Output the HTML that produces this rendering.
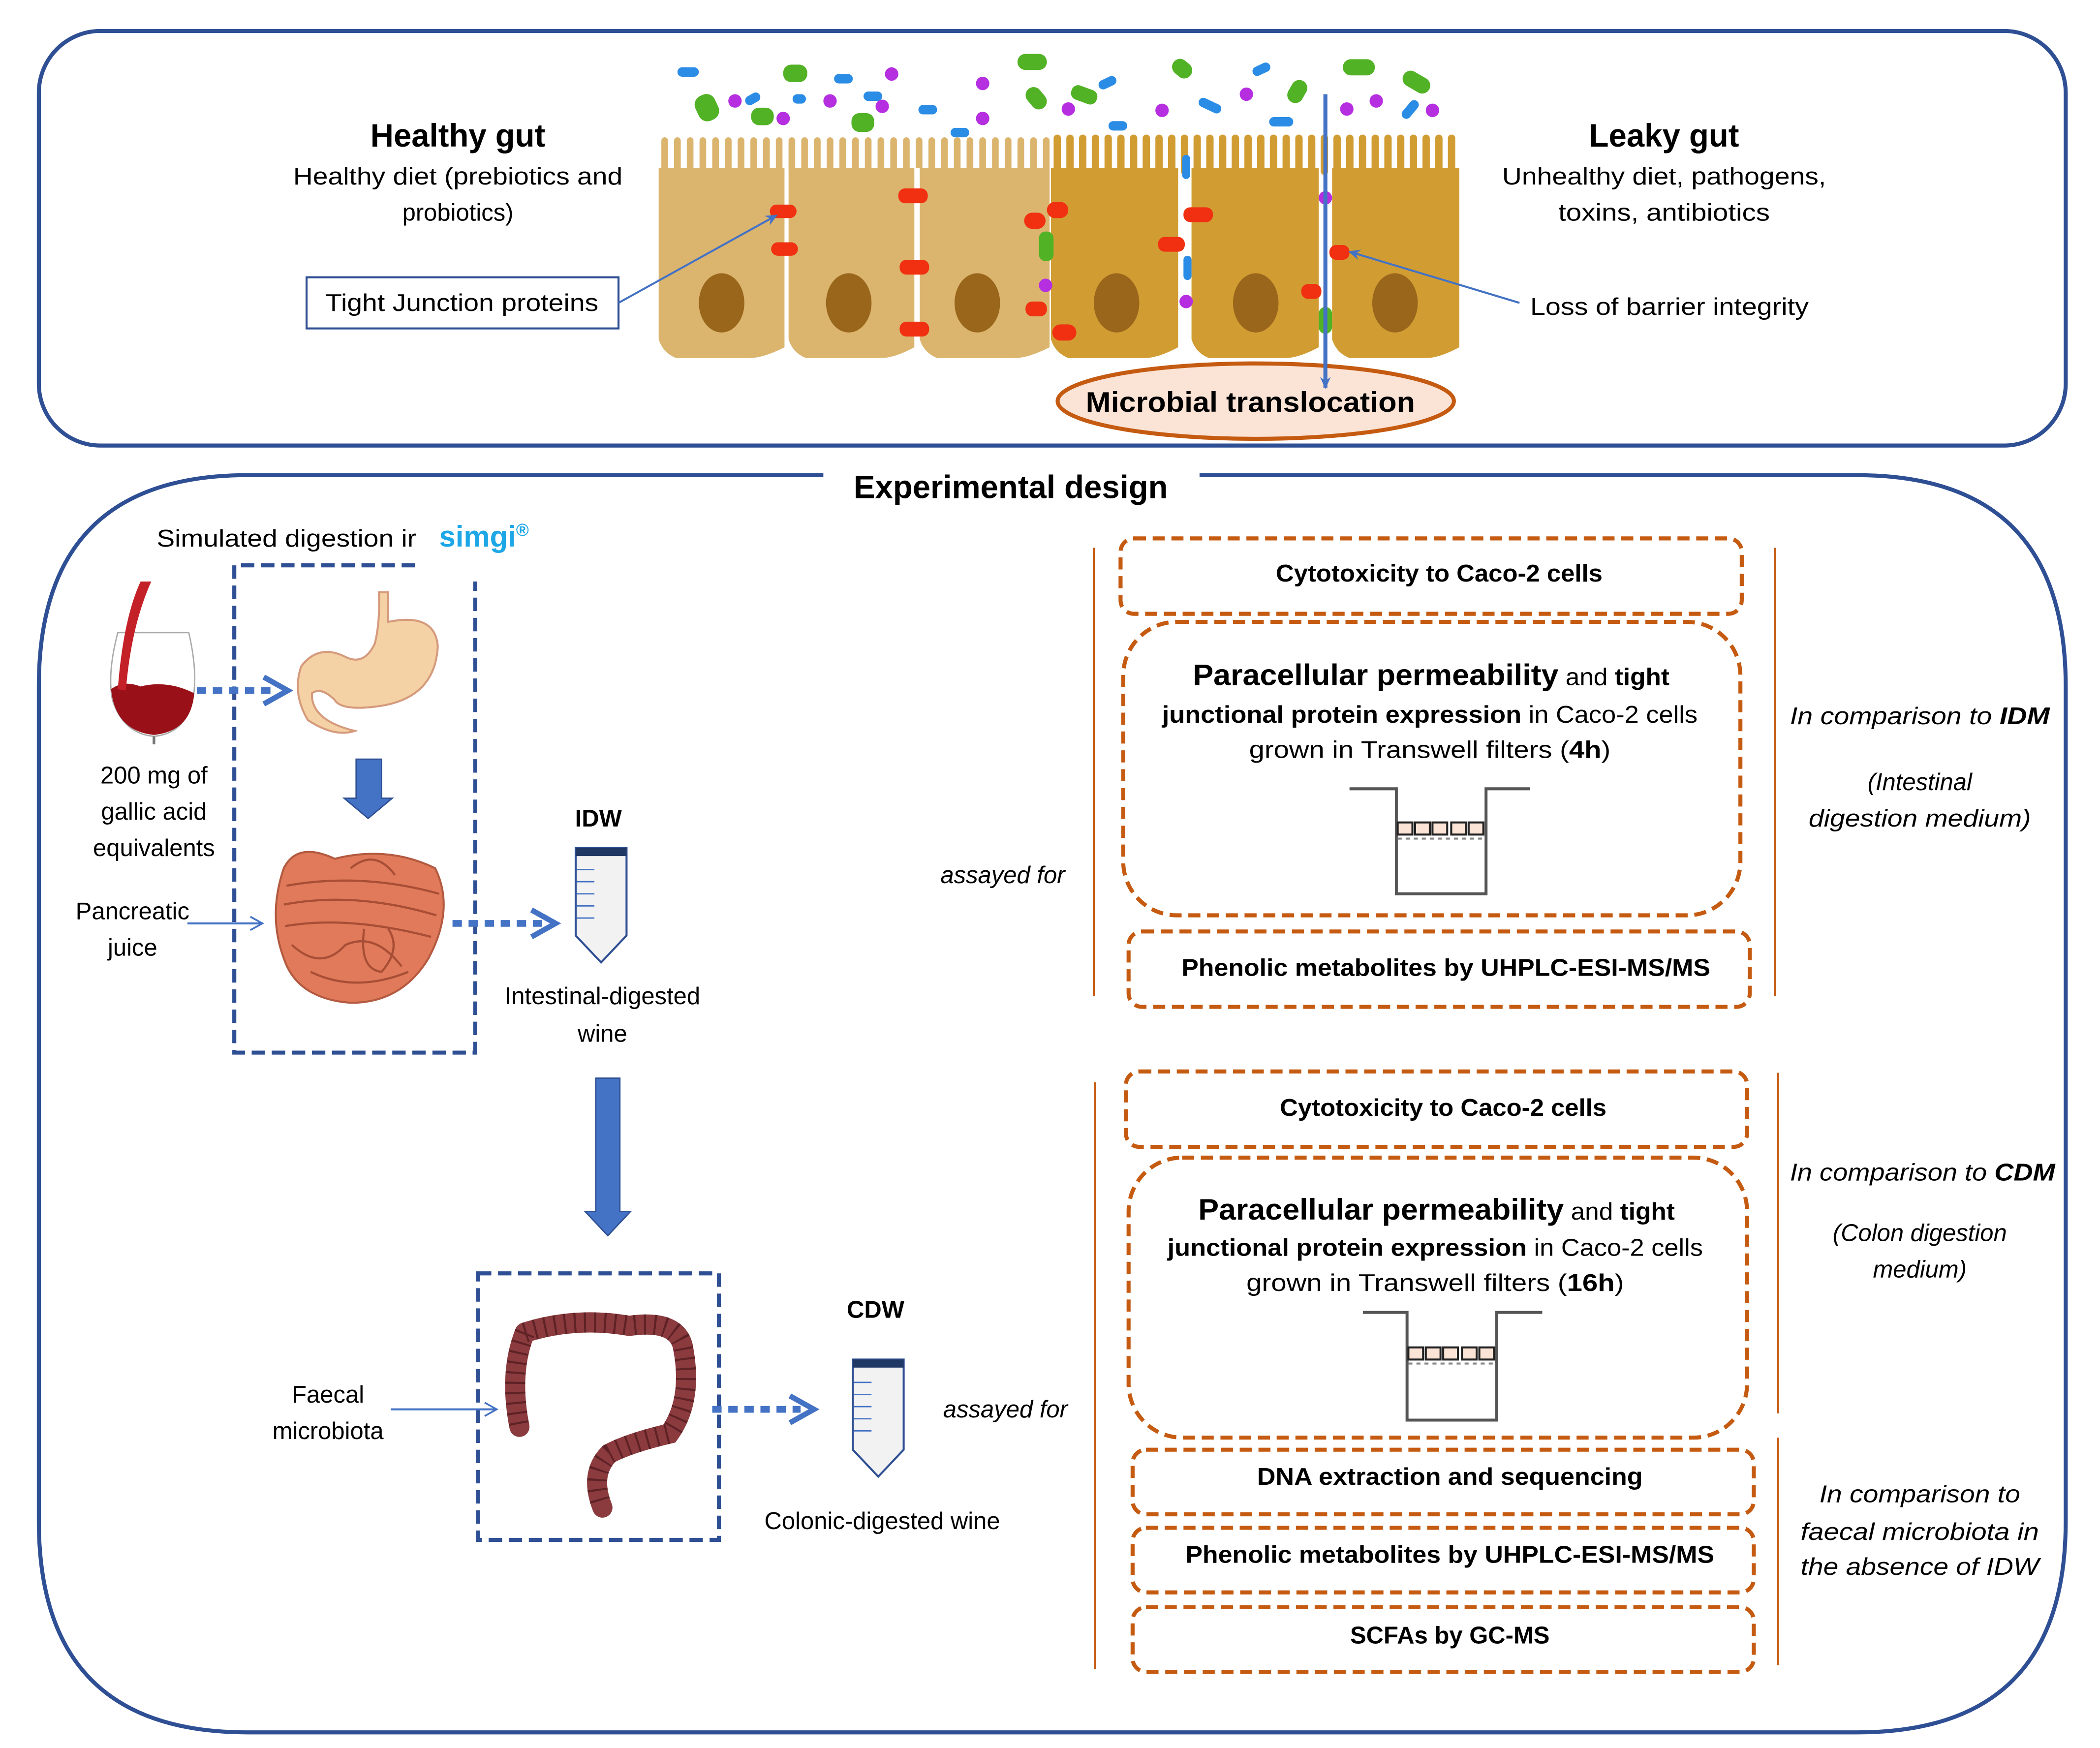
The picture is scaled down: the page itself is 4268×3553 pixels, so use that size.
<!DOCTYPE html>
<html><head><meta charset="utf-8"><style>html,body{margin:0;padding:0;background:#fff}svg{display:block}text{font-family:"Liberation Sans",sans-serif}</style></head><body>
<svg width="4268" height="3553" viewBox="0 0 1568.6 1298.6" preserveAspectRatio="none" xmlns="http://www.w3.org/2000/svg">
<defs>
<pattern id="vl" x="492" y="100" width="9.5" height="30" patternUnits="userSpaceOnUse"><rect x="2" y="2" width="5" height="28" rx="2.5" fill="#dbb46e"/></pattern>
<pattern id="vd" x="785" y="100" width="9.5" height="30" patternUnits="userSpaceOnUse"><rect x="2" y="0" width="5.5" height="30" rx="2.7" fill="#d19d33"/></pattern>
<marker id="ah" markerWidth="10" markerHeight="10" refX="8" refY="5" orient="auto" markerUnits="userSpaceOnUse"><path d="M0,1 L9,5 L0,9 L3,5z" fill="#4472c4"/></marker>
<marker id="oh" markerWidth="12" markerHeight="12" refX="10" refY="6" orient="auto" markerUnits="userSpaceOnUse"><path d="M1,1 L10,6 L1,11" fill="none" stroke="#4472c4" stroke-width="1.3"/></marker>
</defs>
<!-- top box -->
<rect x="29" y="23" width="1514" height="308" rx="46" fill="none" stroke="#2f4f94" stroke-width="3"/>
<!-- bottom box -->
<path d="M615,353 L185,353 Q29,353 29,510 L29,1130 Q29,1287 185,1287 L1387,1287 Q1543,1287 1543,1130 L1543,510 Q1543,353 1387,353 L896,353" fill="none" stroke="#2f4f94" stroke-width="3"/>
<text x="755" y="370" font-size="24" font-weight="bold" text-anchor="middle">Experimental design</text>

<!-- gut cells -->
<rect x="492" y="100" width="293" height="30" fill="url(#vl)"/>
<rect x="785" y="100" width="305" height="30" fill="url(#vd)"/>
<g fill="#dbb46e">
<path d="M492,125 H586 V258 Q570,266 560,266 H505 Q495,262 492,252z"/>
<path d="M589,125 H683 V258 Q668,266 658,266 H602 Q592,262 589,252z"/>
<path d="M687,125 H784 V258 Q768,266 758,266 H700 Q690,262 687,252z"/>
</g>
<g fill="#d19d33">
<path d="M785,125 H880 V258 Q865,266 855,266 H798 Q788,262 785,252z"/>
<path d="M890,125 H985 V258 Q970,266 960,266 H903 Q893,262 890,252z"/>
<path d="M995,125 H1090 V258 Q1075,266 1065,266 H1008 Q998,262 995,252z"/>
</g>
<rect x="586" y="125" width="3" height="140" fill="#fff"/>
<rect x="683" y="125" width="4" height="140" fill="#fff"/>
<g fill="#99661b">
<ellipse cx="539" cy="225" rx="17" ry="22"/><ellipse cx="634" cy="225" rx="17" ry="22"/><ellipse cx="730" cy="225" rx="17" ry="22"/>
<ellipse cx="834" cy="225" rx="17" ry="22"/><ellipse cx="938" cy="225" rx="17" ry="22"/><ellipse cx="1042" cy="225" rx="17" ry="22"/>
</g>
<g fill="#f03010">
<rect x="575" y="152" width="20" height="10" rx="5"/><rect x="576" y="180" width="20" height="10" rx="5"/>
<rect x="671" y="140" width="22" height="11" rx="5"/><rect x="672" y="193" width="22" height="11" rx="5"/><rect x="672" y="239" width="22" height="11" rx="5"/>
<rect x="765" y="158" width="16" height="12" rx="6"/><rect x="782" y="150" width="16" height="12" rx="6"/>
<rect x="766" y="224" width="16" height="11" rx="5"/><rect x="786" y="241" width="18" height="12" rx="6"/>
<rect x="884" y="154" width="22" height="11" rx="5"/><rect x="865" y="176" width="20" height="11" rx="5"/>
<rect x="972" y="211" width="15" height="11" rx="5"/><rect x="993" y="182" width="15" height="11" rx="5"/>
</g>
<g fill="#52b225"><rect x="776" y="172" width="11" height="22" rx="5"/><rect x="985" y="228" width="10" height="20" rx="5"/></g>
<g fill="#b52ee0"><circle cx="781" cy="212" r="5"/><circle cx="886" cy="224" r="5"/><circle cx="990" cy="147" r="5"/></g>
<g fill="#2b8ce6"><rect x="883" y="115" width="6" height="18" rx="3"/><rect x="884" y="190" width="6" height="18" rx="3"/></g>
<!-- bacteria -->
<g fill="#52b225">
<rect x="520" y="70" width="16" height="20" rx="7" transform="rotate(-25 528 80)"/>
<rect x="585" y="48" width="18" height="13" rx="6"/><rect x="561" y="80" width="17" height="13" rx="6"/>
<rect x="636" y="84" width="17" height="14" rx="6"/><rect x="760" y="40" width="22" height="12" rx="6"/>
<rect x="765" y="67" width="18" height="12" rx="6" transform="rotate(50 774 73)"/>
<rect x="875" y="45" width="16" height="12" rx="6" transform="rotate(40 883 51)"/>
<rect x="960" y="62" width="18" height="12" rx="6" transform="rotate(-60 969 68)"/>
<rect x="1003" y="44" width="24" height="12" rx="6"/>
<rect x="1047" y="55" width="22" height="12" rx="6" transform="rotate(30 1058 61)"/>
<rect x="800" y="65" width="20" height="11" rx="5" transform="rotate(20 810 70)"/>
</g>
<g fill="#2b8ce6">
<rect x="506" y="50" width="16" height="7" rx="3.5"/><rect x="556" y="70" width="12" height="7" rx="3.5" transform="rotate(-30 562 73)"/>
<rect x="623" y="55" width="14" height="7" rx="3.5"/><rect x="645" y="68" width="14" height="7" rx="3.5"/>
<rect x="686" y="78" width="14" height="7" rx="3.5"/><rect x="710" y="95" width="14" height="7" rx="3.5"/>
<rect x="820" y="58" width="14" height="7" rx="3.5" transform="rotate(-25 827 61)"/>
<rect x="828" y="90" width="14" height="7" rx="3.5"/><rect x="935" y="48" width="14" height="7" rx="3.5" transform="rotate(-25 942 51)"/>
<rect x="895" y="75" width="18" height="7" rx="3.5" transform="rotate(25 904 78)"/><rect x="948" y="87" width="18" height="7" rx="3.5"/>
<rect x="1045" y="78" width="16" height="7" rx="3.5" transform="rotate(-50 1053 81)"/>
<rect x="592" y="70" width="10" height="7" rx="3.5"/>
</g>
<g fill="#b52ee0">
<circle cx="549" cy="75" r="5"/><circle cx="585" cy="88" r="5"/><circle cx="620" cy="75" r="5"/><circle cx="659" cy="79" r="5"/>
<circle cx="666" cy="55" r="5"/><circle cx="734" cy="62" r="5"/><circle cx="734" cy="88" r="5"/><circle cx="798" cy="81" r="5"/>
<circle cx="868" cy="82" r="5"/><circle cx="931" cy="70" r="5"/><circle cx="1006" cy="81" r="5"/><circle cx="1028" cy="75" r="5"/><circle cx="1070" cy="82" r="5"/>
</g>
<!-- translocation -->
<ellipse cx="938" cy="298" rx="148" ry="28" fill="#fbe4d6" stroke="#c55a11" stroke-width="3"/>
<text x="934" y="306" font-size="21" font-weight="bold" text-anchor="middle" textLength="246" lengthAdjust="spacingAndGlyphs">Microbial translocation</text>
<line x1="990" y1="70" x2="990" y2="288" stroke="#4472c4" stroke-width="3" marker-end="url(#ah)"/>
<!-- healthy / leaky text -->
<text x="342" y="109" font-size="24" font-weight="bold" text-anchor="middle">Healthy gut</text>
<text x="342" y="137" font-size="18" text-anchor="middle" textLength="246" lengthAdjust="spacingAndGlyphs">Healthy diet (prebiotics and</text>
<text x="342" y="164" font-size="18" text-anchor="middle">probiotics)</text>
<rect x="229" y="206" width="233" height="38" fill="#fff" stroke="#2f4f94" stroke-width="1.5"/>
<text x="345" y="231" font-size="18" text-anchor="middle" textLength="204" lengthAdjust="spacingAndGlyphs">Tight Junction proteins</text>
<line x1="462" y1="225" x2="580" y2="160" stroke="#4472c4" stroke-width="1.5" marker-end="url(#ah)"/>
<text x="1243" y="109" font-size="24" font-weight="bold" text-anchor="middle">Leaky gut</text>
<text x="1243" y="137" font-size="18" text-anchor="middle" textLength="242" lengthAdjust="spacingAndGlyphs">Unhealthy diet, pathogens,</text>
<text x="1243" y="164" font-size="18" text-anchor="middle" textLength="158" lengthAdjust="spacingAndGlyphs">toxins, antibiotics</text>
<text x="1247" y="234" font-size="18" text-anchor="middle" textLength="208" lengthAdjust="spacingAndGlyphs">Loss of barrier integrity</text>
<line x1="1135" y1="225" x2="1008" y2="187" stroke="#4472c4" stroke-width="1.5" marker-end="url(#ah)"/>

<!-- left section -->
<text x="117" y="406" font-size="18" textLength="194" lengthAdjust="spacingAndGlyphs">Simulated digestion ir</text>
<text x="328" y="406" font-size="22" font-weight="bold" fill="#1ea7e6">simgi<tspan font-size="13" dy="-8">®</tspan></text>
<path d="M310,420 H175 V782 H355 V432" fill="none" stroke="#2f4f94" stroke-width="3" stroke-dasharray="10,5"/>
<!-- wine glass -->
<path d="M88,470 Q80,500 84,520 Q92,545 115,547 Q138,545 144,520 Q148,500 141,470z" fill="#fff" stroke="#aaa" stroke-width="1"/>
<path d="M83,512 Q86,543 115,546 Q143,543 145,515 Q125,505 105,510 Q92,505 83,512z" fill="#9a1018"/>
<path d="M105,432 Q92,460 88,512 L94,513 Q98,465 113,432z" fill="#c42028"/>
<line x1="115" y1="547" x2="115" y2="553" stroke="#777" stroke-width="2"/>
<line x1="147" y1="513" x2="205" y2="513" stroke="#4472c4" stroke-width="5" stroke-dasharray="7,5"/>
<path d="M197,503 L215,513 L197,523" fill="none" stroke="#4472c4" stroke-width="4"/>
<!-- stomach -->
<path d="M283,440 L290,440 L290,462 Q325,455 327,480 Q325,520 280,525 Q255,528 250,520 Q240,510 233,515 Q232,535 265,543 Q250,548 230,535 Q218,515 225,495 Q238,478 258,488 Q272,495 280,478 Q284,462 283,440z" fill="#f5d2a6" stroke="#d59a7c" stroke-width="1.5"/>
<!-- down arrow -->
<path d="M266,564 H285 V593 H293 L275,608 L257,593 H266z" fill="#4472c4" stroke="#2f4f94"/>
<!-- intestine -->
<path d="M212,645 Q222,625 250,638 Q290,628 325,645 Q340,675 320,712 Q300,745 262,745 Q222,742 212,712 Q200,680 212,645z" fill="#e07a5a" stroke="#b35a40" stroke-width="1.5"/>
<g fill="none" stroke="#a84e36" stroke-width="1.6"><path d="M214,658 Q270,648 328,664"/><path d="M212,672 Q265,662 326,680"/><path d="M213,688 Q260,680 322,696"/><path d="M218,702 Q240,722 258,702 Q280,692 300,718"/><path d="M232,722 Q265,738 305,722"/><path d="M262,645 Q280,630 295,650"/><path d="M272,690 Q268,720 285,722 Q300,705 290,690"/></g>
<line x1="140" y1="686" x2="196" y2="686" stroke="#4472c4" stroke-width="1.5" marker-end="url(#oh)"/>
<line x1="338" y1="686" x2="405" y2="686" stroke="#4472c4" stroke-width="5" stroke-dasharray="7,5"/>
<path d="M397,676 L415,686 L397,696" fill="none" stroke="#4472c4" stroke-width="4"/>
<text x="115" y="582" font-size="18" text-anchor="middle">200 mg of</text>
<text x="115" y="609" font-size="18" text-anchor="middle">gallic acid</text>
<text x="115" y="636" font-size="18" text-anchor="middle">equivalents</text>
<text x="99" y="683" font-size="18" text-anchor="middle">Pancreatic</text>
<text x="99" y="710" font-size="18" text-anchor="middle">juice</text>
<!-- IDW tube -->
<text x="447" y="614" font-size="18" font-weight="bold" text-anchor="middle">IDW</text>
<path d="M430,630 H468 V695 L449,715 L430,695z" fill="#f2f2f2" stroke="#2f4f94" stroke-width="1.5"/>
<rect x="430" y="630" width="38" height="6" fill="#1f3864"/>
<g stroke="#4472c4" stroke-width="1"><line x1="431" y1="646" x2="444" y2="646"/><line x1="431" y1="655" x2="444" y2="655"/><line x1="431" y1="664" x2="444" y2="664"/><line x1="431" y1="673" x2="444" y2="673"/><line x1="431" y1="682" x2="444" y2="682"/></g>
<text x="450" y="746" font-size="18" text-anchor="middle">Intestinal-digested</text>
<text x="450" y="774" font-size="18" text-anchor="middle">wine</text>
<path d="M445,801 H463 V900 H471 L454,918 L437,900 H445z" fill="#4472c4" stroke="#2f4f94"/>
<!-- colon -->
<rect x="357" y="946" width="180" height="198" fill="none" stroke="#2f4f94" stroke-width="3" stroke-dasharray="10,5"/>
<path d="M392,990 Q380,1020 388,1060 M392,990 Q430,978 470,985 Q505,980 510,1000 Q518,1040 500,1065 Q470,1072 455,1080 Q440,1095 450,1120" fill="none" stroke="#8b3a3e" stroke-width="15" stroke-linecap="round"/>
<path d="M392,990 Q380,1020 388,1060 M392,990 Q430,978 470,985 Q505,980 510,1000 Q518,1040 500,1065 Q470,1072 455,1080 Q440,1095 450,1120" fill="none" stroke="#5e2226" stroke-width="15" stroke-dasharray="1.5,6"/>
<line x1="292" y1="1047" x2="371" y2="1047" stroke="#4472c4" stroke-width="1.5" marker-end="url(#oh)"/>
<text x="245" y="1042" font-size="18" text-anchor="middle">Faecal</text>
<text x="245" y="1069" font-size="18" text-anchor="middle">microbiota</text>
<line x1="532" y1="1047" x2="598" y2="1047" stroke="#4472c4" stroke-width="5" stroke-dasharray="7,5"/>
<path d="M590,1037 L608,1047 L590,1057" fill="none" stroke="#4472c4" stroke-width="4"/>
<text x="654" y="979" font-size="18" font-weight="bold" text-anchor="middle">CDW</text>
<path d="M637,1010 H675 V1077 L656,1097 L637,1077z" fill="#f2f2f2" stroke="#2f4f94" stroke-width="1.5"/>
<rect x="637" y="1010" width="38" height="6" fill="#1f3864"/>
<g stroke="#4472c4" stroke-width="1"><line x1="638" y1="1027" x2="651" y2="1027"/><line x1="638" y1="1036" x2="651" y2="1036"/><line x1="638" y1="1045" x2="651" y2="1045"/><line x1="638" y1="1054" x2="651" y2="1054"/><line x1="638" y1="1063" x2="651" y2="1063"/></g>
<text x="659" y="1136" font-size="18" text-anchor="middle">Colonic-digested wine</text>
<text x="749" y="656" font-size="18" font-style="italic" text-anchor="middle">assayed for</text>
<text x="751" y="1053" font-size="18" font-style="italic" text-anchor="middle">assayed for</text>

<!-- orange lines -->
<g stroke="#c55a11" stroke-width="1.5">
<line x1="817" y1="407" x2="817" y2="740"/><line x1="1326" y1="407" x2="1326" y2="740"/>
<line x1="818" y1="804" x2="818" y2="1240"/><line x1="1328" y1="797" x2="1328" y2="1050"/><line x1="1328" y1="1068" x2="1328" y2="1237"/>
</g>
<g fill="none" stroke="#c55a11" stroke-width="3" stroke-dasharray="9,5">
<rect x="837" y="400" width="464" height="56" rx="10"/>
<rect x="839" y="462" width="461" height="218" rx="40"/>
<rect x="843" y="692" width="464" height="56" rx="10"/>
<rect x="841" y="796" width="464" height="56" rx="10"/>
<rect x="843" y="860" width="462" height="208" rx="40"/>
<rect x="846" y="1077" width="464" height="48" rx="10"/>
<rect x="846" y="1135" width="464" height="48" rx="10"/>
<rect x="846" y="1194" width="464" height="48" rx="10"/>
</g>
<g font-size="18" font-weight="bold" text-anchor="middle">
<text x="1075" y="432" textLength="244" lengthAdjust="spacingAndGlyphs">Cytotoxicity to Caco-2 cells</text>
<text x="1080" y="725" textLength="395" lengthAdjust="spacingAndGlyphs">Phenolic metabolites by UHPLC-ESI-MS/MS</text>
<text x="1078" y="829" textLength="244" lengthAdjust="spacingAndGlyphs">Cytotoxicity to Caco-2 cells</text>
<text x="1083" y="1103" textLength="288" lengthAdjust="spacingAndGlyphs">DNA extraction and sequencing</text>
<text x="1083" y="1161" textLength="395" lengthAdjust="spacingAndGlyphs">Phenolic metabolites by UHPLC-ESI-MS/MS</text>
<text x="1083" y="1221">SCFAs by GC-MS</text>
</g>
<g font-size="18" text-anchor="middle">
<text x="1069" y="509" textLength="356" lengthAdjust="spacingAndGlyphs"><tspan font-weight="bold" font-size="22">Paracellular permeability</tspan> and <tspan font-weight="bold">tight</tspan></text>
<text x="1068" y="537" textLength="400" lengthAdjust="spacingAndGlyphs"><tspan font-weight="bold">junctional protein expression</tspan> in Caco-2 cells</text>
<text x="1068" y="563" textLength="270" lengthAdjust="spacingAndGlyphs">grown in Transwell  filters (<tspan font-weight="bold">4h</tspan>)</text>
<text x="1073" y="906" textLength="356" lengthAdjust="spacingAndGlyphs"><tspan font-weight="bold" font-size="22">Paracellular permeability</tspan> and <tspan font-weight="bold">tight</tspan></text>
<text x="1072" y="933" textLength="400" lengthAdjust="spacingAndGlyphs"><tspan font-weight="bold">junctional protein expression</tspan> in Caco-2 cells</text>
<text x="1072" y="959" textLength="282" lengthAdjust="spacingAndGlyphs">grown in Transwell  filters (<tspan font-weight="bold">16h</tspan>)</text>
</g>
<!-- transwells -->
<g fill="none" stroke="#555" stroke-width="2.2">
<path d="M1008,586 H1043 V664 H1110 V586 H1143"/>
<path d="M1018,975 H1051 V1055 H1118 V975 H1152"/>
</g>
<g fill="#fbe4d6" stroke="#222" stroke-width="1.5">
<rect x="1044" y="611" width="11" height="9"/><rect x="1057" y="611" width="11" height="9"/><rect x="1070" y="611" width="11" height="9"/><rect x="1084" y="611" width="11" height="9"/><rect x="1097" y="611" width="11" height="9"/>
<rect x="1052" y="1001" width="11" height="9"/><rect x="1065" y="1001" width="11" height="9"/><rect x="1078" y="1001" width="11" height="9"/><rect x="1092" y="1001" width="11" height="9"/><rect x="1105" y="1001" width="11" height="9"/>
</g>
<line x1="1044" y1="623" x2="1109" y2="623" stroke="#888" stroke-width="1.5" stroke-dasharray="3,3"/>
<line x1="1052" y1="1013" x2="1117" y2="1013" stroke="#888" stroke-width="1.5" stroke-dasharray="3,3"/>
<!-- right italic texts -->
<g font-size="18" font-style="italic" text-anchor="middle">
<text x="1434" y="538" textLength="194" lengthAdjust="spacingAndGlyphs">In comparison to <tspan font-weight="bold">IDM</tspan></text>
<text x="1434" y="587">(Intestinal</text>
<text x="1434" y="614" textLength="166" lengthAdjust="spacingAndGlyphs">digestion medium)</text>
<text x="1436" y="877" textLength="198" lengthAdjust="spacingAndGlyphs">In comparison to <tspan font-weight="bold">CDM</tspan></text>
<text x="1434" y="922">(Colon digestion</text>
<text x="1434" y="949">medium)</text>
<text x="1434" y="1116" textLength="150" lengthAdjust="spacingAndGlyphs">In comparison to</text>
<text x="1434" y="1144" textLength="178" lengthAdjust="spacingAndGlyphs">faecal microbiota in</text>
<text x="1434" y="1170" textLength="178" lengthAdjust="spacingAndGlyphs">the absence  of IDW</text>
</g>
</svg>
</body></html>
